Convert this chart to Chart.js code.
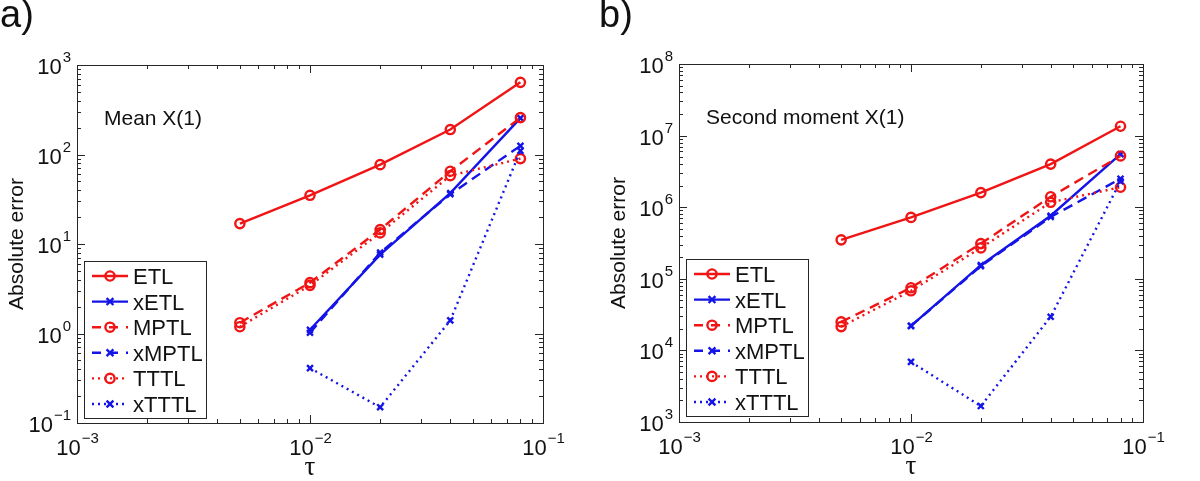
<!DOCTYPE html>
<html>
<head>
<meta charset="utf-8">
<script src="https://cdn.jsdelivr.net/npm/chart.js@4.4.0/dist/chart.umd.min.js"></script>
<style>
  body { margin: 0; background: #fff; width: 1200px; height: 481px; overflow: hidden; position: relative;
         font-family: 'Liberation Sans', Arial, sans-serif; }
  .panel { position: absolute; top: 0; width: 600px; height: 481px; }
  .tag { position: absolute; top: -7px; font-size: 38px; color: #111; }
</style>
</head>
<body>
<div class="panel" style="left:0"><canvas id="chartA" width="600" height="481"></canvas></div>
<div class="panel" style="left:600px"><canvas id="chartB" width="600" height="481"></canvas></div>
<div class="tag" style="left:0">a)</div>
<div class="tag" style="left:599px">b)</div>

<script>
// time step sizes
const tau = [0.005, 0.01, 0.02, 0.04, 0.08];
const seriesNames = ['ETL', 'xETL', 'MPTL', 'xMPTL', 'TTTL', 'xTTTL'];

// a) mean of X(1)
const meanETL   = [16.9, 35, 77, 190, 640];
const meanXETL  = [null, 1.1, 7.6, 37, 255];
const meanMPTL  = [1.32, 3.7, 14.5, 65, 258];
const meanXMPTL = [null, 1.02, 8.0, 36, 125];
const meanTTTL  = [1.19, 3.45, 13.3, 58, 90];
const meanXTTTL = [null, 0.41, 0.15, 1.4, 110];

// b) second moment of X(1)
const smETL   = [3.5e5, 7.2e5, 1.6e6, 4.0e6, 1.35e7];
const smXETL  = [null, 2.2e4, 1.55e5, 7.6e5, 5.5e6];
const smMPTL  = [2.5e4, 7.5e4, 3.1e5, 1.4e6, 5.2e6];
const smXMPTL = [null, 2.2e4, 1.5e5, 7.3e5, 2.5e6];
const smTTTL  = [2.15e4, 6.8e4, 2.7e5, 1.17e6, 1.9e6];
const smXTTTL = [null, 6.9e3, 1.67e3, 2.95e4, 2.3e6];

// tick exponents
const xTickExps = [-3, -2, -1];
const meanYExps = [-1, 0, 1, 2, 3];
const smYExps = [3, 4, 5, 6, 7, 8];

const RED = '#f01414';
const BLUE = '#1414e8';
const styles = [
    { color: RED,  dash: [],     marker: 'circle' },
    { color: BLUE, dash: [],     marker: 'cross' },
    { color: RED,  dash: [10, 6], marker: 'circle' },
    { color: BLUE, dash: [10, 6], marker: 'cross' },
    { color: RED,  dash: [2, 4], marker: 'circle' },
    { color: BLUE, dash: [2, 4], marker: 'cross' }
];

function drawMarker(ctx, kind, x, y, color) {
    ctx.save();
    ctx.setLineDash([]);
    ctx.strokeStyle = color;
    ctx.lineWidth = 2.4;
    ctx.beginPath();
    if (kind === 'circle') {
        ctx.arc(x, y, 4.6, 0, Math.PI * 2);
    } else {
        const r = 3.4;
        ctx.moveTo(x - r, y - r); ctx.lineTo(x + r, y + r);
        ctx.moveTo(x - r, y + r); ctx.lineTo(x + r, y - r);
    }
    ctx.stroke();
    ctx.restore();
}

function powLabel(ctx, exp, x, y, align) {
    const base = '10', sup = String(exp).replace('-', '\u2212');
    ctx.font = '22px "Liberation Sans", Arial, sans-serif';
    const w1 = ctx.measureText(base).width;
    ctx.font = '15px "Liberation Sans", Arial, sans-serif';
    const w2 = ctx.measureText(sup).width;
    let x0 = align === 'right' ? x - w1 - w2 : x - (w1 + w2) / 2;
    ctx.textAlign = 'left';
    ctx.textBaseline = 'alphabetic';
    ctx.font = '22px "Liberation Sans", Arial, sans-serif';
    ctx.fillText(base, x0, y);
    ctx.font = '15px "Liberation Sans", Arial, sans-serif';
    ctx.fillText(sup, x0 + w1 + 1, y - 12);
}

const matlabAxes = {
    id: 'matlabAxes',
    afterDatasetsDraw(chart, args, opts) {
        const ctx = chart.ctx, a = chart.chartArea;
        const xs = chart.scales.x, ys = chart.scales.y;
        ctx.save();
        ctx.strokeStyle = '#262626';
        ctx.fillStyle = '#111';
        ctx.lineWidth = 1;
        ctx.setLineDash([]);

        // x ticks (bottom and top, pointing inward)
        const xe = opts.xExps;
        for (let e = xe[0]; e <= xe[xe.length - 1]; e++) {
            for (let m = 1; m <= 9; m++) {
                const v = m * Math.pow(10, e);
                if (v > Math.pow(10, xe[xe.length - 1]) + 1e-12) break;
                const px = Math.round(xs.getPixelForValue(v)) + 0.5;
                const len = m === 1 ? 8 : 4;
                ctx.beginPath();
                ctx.moveTo(px, a.bottom); ctx.lineTo(px, a.bottom - len);
                ctx.moveTo(px, a.top); ctx.lineTo(px, a.top + len);
                ctx.stroke();
            }
        }
        // y ticks (left and right)
        const ye = opts.yExps;
        for (let e = ye[0]; e <= ye[ye.length - 1]; e++) {
            for (let m = 1; m <= 9; m++) {
                const v = m * Math.pow(10, e);
                if (v > Math.pow(10, ye[ye.length - 1]) * 1.0000001) break;
                const py = Math.round(ys.getPixelForValue(v)) + 0.5;
                const len = m === 1 ? 8 : 4;
                ctx.beginPath();
                ctx.moveTo(a.left, py); ctx.lineTo(a.left + len, py);
                ctx.moveTo(a.right, py); ctx.lineTo(a.right - len, py);
                ctx.stroke();
            }
        }
        ctx.strokeRect(Math.round(a.left) + 0.5, Math.round(a.top) + 0.5,
                       Math.round(a.right - a.left), Math.round(a.bottom - a.top));

        // tick labels
        xe.forEach(e => powLabel(ctx, e, xs.getPixelForValue(Math.pow(10, e)), a.bottom + 32, 'center'));
        ye.forEach(e => powLabel(ctx, e, a.left - 7, ys.getPixelForValue(Math.pow(10, e)) + 9, 'right'));

        // axis titles
        ctx.font = '27px "Liberation Serif", "DejaVu Serif", serif';
        ctx.textAlign = 'center';
        ctx.fillText('\u03c4', (a.left + a.right) / 2, a.bottom + 52);
        ctx.save();
        ctx.translate(a.left - 54, (a.top + a.bottom) / 2);
        ctx.rotate(-Math.PI / 2);
        ctx.font = '21px "Liberation Sans", Arial, sans-serif';
        ctx.fillText('Absolute error', 0, 0);
        ctx.restore();

        // panel title inside the axes
        ctx.textAlign = 'left';
        ctx.font = '21px "Liberation Sans", Arial, sans-serif';
        ctx.fillText(opts.title, a.left + 27, a.top + 60);

        // legend
        const lx = a.left + 7, ly = opts.legendTop, lw = 122, rowH = 25.6;
        ctx.fillStyle = '#fff';
        ctx.fillRect(lx, ly, lw, rowH * 6 + 3);
        ctx.strokeStyle = '#262626';
        ctx.strokeRect(Math.round(lx) + 0.5, Math.round(ly) + 0.5, lw, Math.round(rowH * 6 + 3));
        chart.data.datasets.forEach((ds, i) => {
            const cy = ly + 15 + rowH * i;
            const st = styles[i];
            ctx.save();
            ctx.strokeStyle = st.color;
            ctx.lineWidth = 2.4;
            ctx.setLineDash(st.dash.length ? (st.dash[0] > 5 ? [9, 8] : [2, 4]) : []);
            ctx.beginPath();
            ctx.moveTo(lx + 8, cy); ctx.lineTo(lx + 44, cy);
            ctx.stroke();
            ctx.restore();
            drawMarker(ctx, st.marker, lx + 26, cy, st.color);
            ctx.fillStyle = '#111';
            ctx.font = '22px "Liberation Sans", Arial, sans-serif';
            ctx.fillText(ds.label, lx + 49, cy + 8);
        });
        ctx.restore();
    }
};

function makeDatasets(seriesList) {
    return seriesList.map((vals, i) => {
        const pts = [];
        vals.forEach((v, j) => { if (v !== null) pts.push({ x: tau[j], y: v }); });
        const st = styles[i];
        return {
            label: seriesNames[i],
            data: pts,
            borderColor: st.color,
            borderWidth: 2.4,
            borderDash: st.dash,
            pointStyle: st.marker === 'circle' ? 'circle' : 'crossRot',
            pointRadius: st.marker === 'circle' ? 4.6 : 4.2,
            pointBorderWidth: 2.4,
            pointBorderColor: st.color,
            pointBackgroundColor: 'rgba(0,0,0,0)',
            fill: false,
            tension: 0,
            order: 6 - i
        };
    });
}

function makePanel(id, seriesList, yMin, yMax, yExps, title, pad, legendTop) {
    new Chart(document.getElementById(id), {
        type: 'line',
        data: { datasets: makeDatasets(seriesList) },
        options: {
            responsive: false,
            animation: false,
            devicePixelRatio: 1,
            layout: { padding: pad },
            scales: {
                x: { type: 'logarithmic', min: 1e-3, max: 1e-1, display: false },
                y: { type: 'logarithmic', min: yMin, max: yMax, display: false }
            },
            plugins: {
                legend: { display: false },
                tooltip: { enabled: false },
                matlabAxes: { xExps: xTickExps, yExps: yExps, title: title, legendTop: legendTop }
            }
        },
        plugins: [matlabAxes]
    });
}

document.addEventListener('DOMContentLoaded', function () {
    makePanel('chartA',
        [meanETL, meanXETL, meanMPTL, meanXMPTL, meanTTTL, meanXTTTL],
        1e-1, 1e3, meanYExps, 'Mean X(1)',
        { left: 77, right: 57, top: 65, bottom: 58 }, 261);
    makePanel('chartB',
        [smETL, smXETL, smMPTL, smXMPTL, smTTTL, smXTTTL],
        1e3, 1e8, smYExps, 'Second moment X(1)',
        { left: 79, right: 57, top: 64, bottom: 59 }, 259);
});
</script>
</body>
</html>
